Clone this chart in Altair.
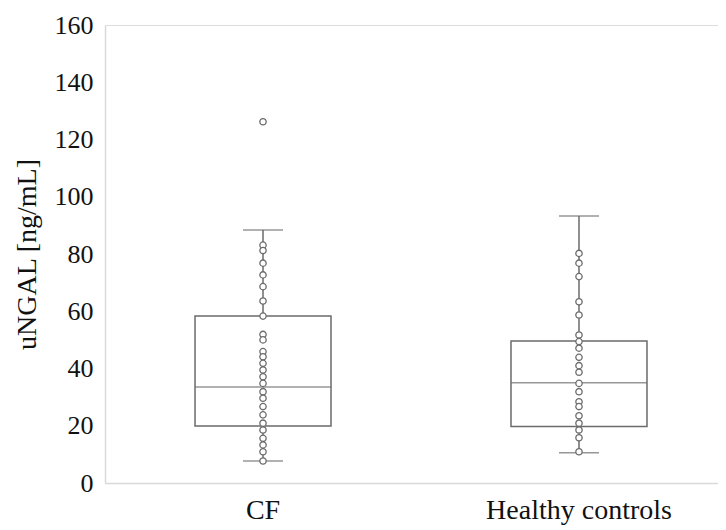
import altair as alt
import pandas as pd

categories = ["CF", "Healthy controls"]

# box statistics
whisker_low = [7.7, 10.6]
q1 = [19.9, 19.7]
median = [33.5, 35.0]
q3 = [58.3, 49.6]
whisker_high = [88.4, 93.3]

# individual points
cf_points = [126.2, 83.1, 81.2, 76.8, 72.7, 68.6, 63.6, 58.3, 51.9, 50.0, 45.9, 44.1,
             41.8, 39.5, 37.1, 34.8, 31.9, 29.6, 26.7, 23.8, 20.9, 18.5, 15.6, 13.3,
             10.9, 7.7]
hc_points = [80.2, 76.8, 72.1, 63.3, 58.7, 51.7, 49.4, 47.1, 43.9, 41.0, 38.7, 34.8,
             31.9, 28.4, 26.7, 23.5, 20.9, 18.5, 15.8, 10.9]

stats = pd.DataFrame({
    "group": categories,
    "low": whisker_low,
    "q1": q1,
    "median": median,
    "q3": q3,
    "high": whisker_high,
})
points = pd.DataFrame({
    "group": ["CF"] * len(cf_points) + ["Healthy controls"] * len(hc_points),
    "value": cf_points + hc_points,
})

FONT = "Liberation Serif"
LINE = "#6b6b6b"

x = alt.X(
    "group:N",
    sort=categories,
    title=None,
    scale=alt.Scale(paddingInner=0.5696, paddingOuter=0.2548, align=0.559),
    axis=alt.Axis(
        labelAngle=0, ticks=False, domainColor="#d9d9d9", domainWidth=1.5,
        labelFont=FONT, labelFontSize=28, labelColor="#111111", labelPadding=13,
        labelLimit=0, grid=False,
    ),
)
yscale = alt.Scale(domain=[0, 160], nice=False)
yaxis = alt.Axis(
    values=list(range(0, 161, 20)), ticks=False, grid=False,
    domainColor="#d9d9d9", domainWidth=1.5,
    labelFont=FONT, labelFontSize=26, labelColor="#111111", labelPadding=12,
    title="uNGAL [ng/mL]", titleFont=FONT, titleFontSize=28, titleFontWeight="normal",
    titleColor="#111111", titlePadding=13,
)

base = alt.Chart(stats)

whisk = base.mark_rule(color=LINE, strokeWidth=1.5).encode(
    x=x,
    y=alt.Y("low:Q", scale=yscale, axis=yaxis),
    y2="high:Q",
)
box = base.mark_bar(fill="white", stroke=LINE, strokeWidth=1.5).encode(
    x=x,
    y=alt.Y("q1:Q", scale=yscale, axis=yaxis),
    y2="q3:Q",
)
med = base.mark_tick(color=LINE, thickness=1.5, size=136).encode(
    x=x, y=alt.Y("median:Q", scale=yscale, axis=yaxis),
)
cap_hi = base.mark_tick(color=LINE, thickness=1.5, size=40).encode(
    x=x, y=alt.Y("high:Q", scale=yscale, axis=yaxis),
)
cap_lo = base.mark_tick(color=LINE, thickness=1.5, size=40).encode(
    x=x, y=alt.Y("low:Q", scale=yscale, axis=yaxis),
)
pts = alt.Chart(points).mark_point(
    shape="circle", filled=False, fill="white", fillOpacity=1, opacity=1,
    stroke=LINE, strokeWidth=1.3, size=40,
).encode(
    x=x, y=alt.Y("value:Q", scale=yscale, axis=yaxis),
)

chart = alt.layer(whisk, box, med, cap_hi, cap_lo, pts).properties(
    width=613, height=458,
    autosize=alt.AutoSizeParams(type="none"),
    padding={"left": 97, "top": 17, "right": 0, "bottom": 46},
).configure_view(strokeWidth=0, stroke="transparent").configure(background="white")

chart.save("out.html", embed_options={"renderer": "svg", "actions": False})
